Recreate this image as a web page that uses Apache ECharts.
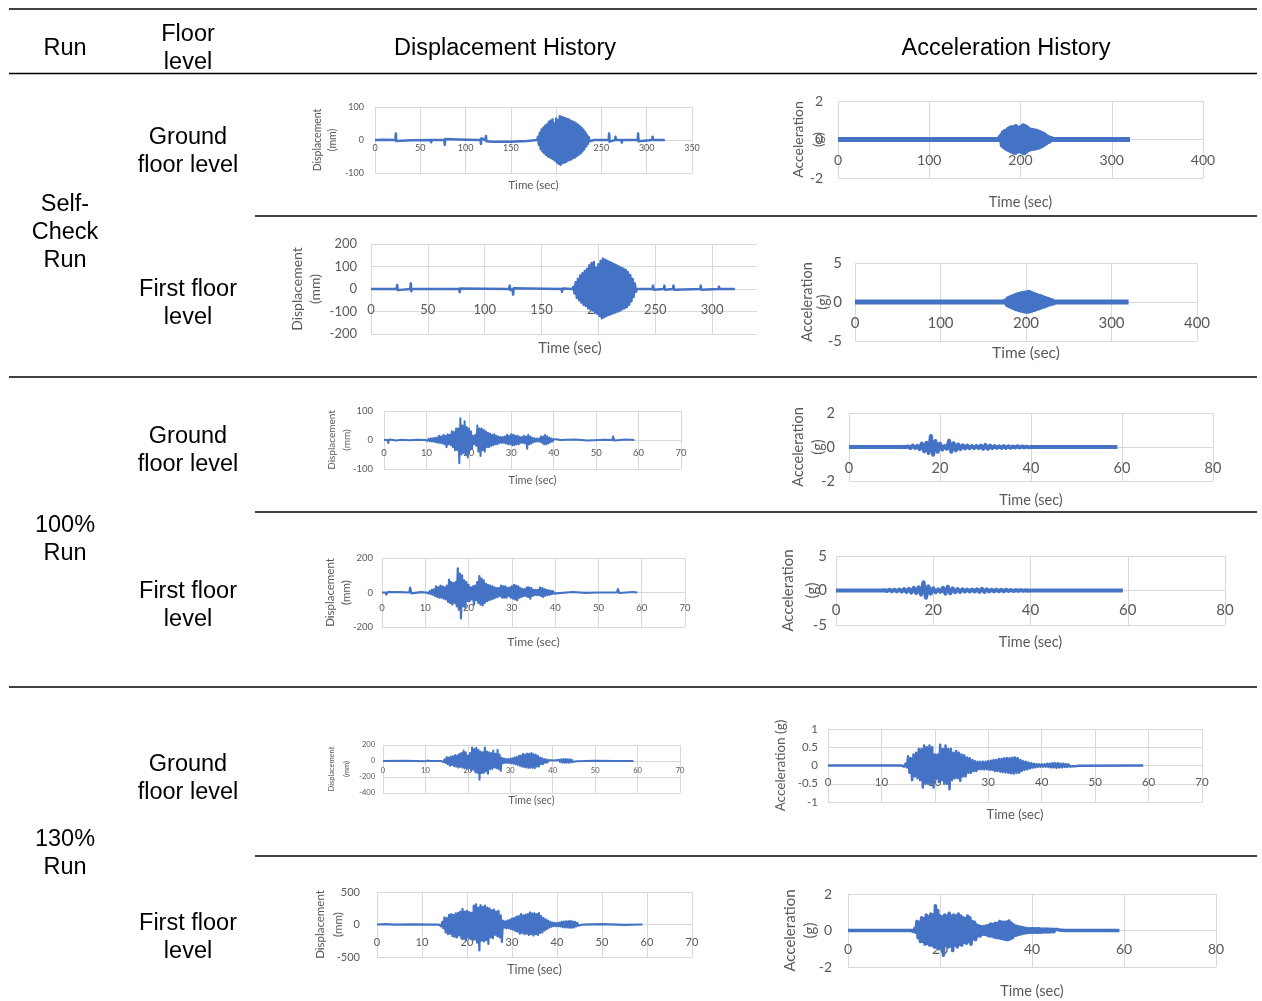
<!DOCTYPE html>
<html>
<head>
<meta charset="utf-8">
<script src="https://cdn.jsdelivr.net/npm/echarts@6/dist/echarts.min.js"></script>
<style>
  html, body { margin: 0; padding: 0; background: #fff; }
  #main { width: 1262px; height: 1001px; }
</style>
</head>
<body>
<div id="main"></div>
<script>
// regular-step stretch of a record: values, one per step
function burst(t0, dt, vals) {
  return vals.map((v, i) => [t0 + i * dt, v]);
}

// table text
const headers = ['Run', 'Floor\nlevel', 'Displacement History', 'Acceleration History'];
const runLabels = ['Self-\nCheck\nRun', '100%\nRun', '130%\nRun'];
const floorLabels = ['Ground\nfloor level', 'First floor\nlevel'];

// ---- Self-check run (time s, mm / g) ----
const selfGroundDisp = [[0,0],[10,1],[22.5,0],[23,20],[23.5,-3],[24,0],[40,-1],[61.5,0],[62,-7],[62.5,0],[76.5,0],[77,-15],[77.5,3],[78,0],[100,1],[116.5,0],[117,-12],[117.5,5],[118,0],[122,0],[122.5,12],[123,-4],[123.5,0],[130,-5],[130.5,0],[150,-5],[150.5,0],[168,-3],[168.5,0],[179,0]]
  .concat(burst(180, 1, [10,-15,22,-28,32,-35,38,-40,43,-45,47,-50,55,-52,58,-55,62,-58,50,-62,65,-68,60,-72,72,-75,70,-70,68,-68,66,-66,64,-62,62,-60,58,-58,56,-54,54,-52,50,-48,46,-44,42,-40,37,-34,31,-28,24,-20,16,-12,8,-4]))
  .concat([[238,0],[242,0],[242.5,-6],[243,0],[258,0],[258.5,20],[259,-5],[259.5,0],[265,0],[265.5,10],[266,0],[272,0],[272.5,-8],[273,0],[290,0],[290.5,20],[291,-4],[291.5,0],[306,0],[306.5,10],[307,0],[320,0]]);

const selfGroundAcc = [[0,0],[176,0]]
  .concat(burst(177, 1, [0.05,-0.1,0.2,-0.3,0.35,-0.38,0.42,-0.45,0.45,-0.5,0.55,-0.55,0.6,-0.6,0.62,-0.65,0.6,-0.68,0.68,-0.62,0.6,-0.6,0.5,-0.55,0.65,-0.65,0.72,-0.7,0.68,-0.62,0.62,-0.55,0.55,-0.5,0.5,-0.48,0.48,-0.46,0.45,-0.45,0.44,-0.42,0.4,-0.4,0.38,-0.35,0.32,-0.3,0.28,-0.25,0.22,-0.18,0.15,-0.12,0.1,-0.08,0.06,-0.04,0.02]))
  .concat([[236,0],[250,0],[250.5,0.06],[251,0],[283,0],[283.5,0.05],[284,0],[320,0]]);

const selfFirstDisp = [[0,0],[22.5,0],[23,18],[23.5,-5],[24,0],[34.5,0],[35,25],[35.5,-10],[36,0],[77.5,0],[78,-14],[78.5,2],[79,0],[121.5,0],[122,15],[122.5,-5],[124.5,0],[125,-25],[125.5,3],[126,0],[167.5,0],[168,-12],[168.5,2],[169,0],[177,0]]
  .concat(burst(178, 1, [10,-20,30,-40,45,-50,60,-60,70,-70,80,-75,90,-85,105,-90,115,-95,120,-105,95,-110,110,-120,125,-130,135,-125,130,-120,125,-115,120,-112,115,-108,110,-104,105,-100,100,-96,95,-90,90,-85,85,-80,75,-70,62,-55,45,-35,25,-12]))
  .concat([[234,0],[247.5,0],[248,15],[248.5,-3],[249,0],[257.5,0],[258,15],[258.5,-3],[259,0],[265.5,0],[266,15],[266.5,-3],[267,0],[289.5,0],[290,15],[290.5,-3],[291,0],[305.5,0],[306,10],[306.5,0],[317.5,0],[318,-6],[318.5,0],[320,0]]);

const selfFirstAcc = [[0,0],[174,0]]
  .concat(burst(175, 1, [0.05,-0.1,0.2,-0.3,0.4,-0.45,0.5,-0.55,0.6,-0.65,0.7,-0.75,0.8,-0.85,0.85,-0.9,0.95,-1.0,1.0,-1.05,1.1,-1.1,1.1,-1.15,1.15,-1.2,1.2,-1.2,1.25,-1.15,1.2,-1.1,1.1,-1.0,1.0,-0.95,0.9,-0.85,0.85,-0.8,0.75,-0.7,0.7,-0.65,0.6,-0.55,0.5,-0.5,0.45,-0.4,0.35,-0.3,0.28,-0.25,0.2,-0.18,0.15,-0.12,0.08,-0.05]))
  .concat([[235,0],[320,0]]);

// ---- 100% run ----
const run100GroundDisp = [[0,0],[0.8,0],[1,-10],[1.2,2],[1.5,0],[3,-2],[4,1],[6,-1],[8,1],[9.75,0]]
  .concat(burst(10, 0.25, [3,-3,4,-4,6,-5,6,-6,8,-8,9,-10,15,-10,12,-12,18,-15,15,-25,20,-15,18,-18,30,-25,28,-35,40,-35,40,-80,75,-50,50,-45,65,-50,45,-60,40,-35,30,-30,15,-15,18,-20,50,-40,40,-55,40,-35,35,-40,30,-25,25,-25,22,-20,18,-18,20,-15,15,-15,12,-10,10,-10,10,-10,12,-12,18,-15,15,-15,20,-18,18,-18,15,-15,15,-15,10,-10,10,-10,15,-12,12,-30,18,-15,12,-12,8,-8,6,-6,5,-5,5,-6,12,-10,12,-15,18,-15,12,-12,8,-8,5,-5,3,-3,3,-3,2,-1]))
  .concat([[41.5,0],[45,2],[48,-2],[52,1],[53.8,0],[54,12],[54.3,-2],[54.6,0],[57,2],[59,0]]);

const run100GroundAcc = [[0,0],[12.5,0]]
  .concat(burst(13, 0.5, [0.03,-0.06,0.08,-0.05,0.06,-0.12,0.2,-0.25,0.25,-0.35,0.65,-0.45,0.35,-0.28,0.2,-0.15,0.06,-0.1,0.37,-0.28,0.22,-0.2,0.15,-0.12,0.1,-0.08,0.08,-0.07,0.06,-0.06,0.05,-0.06,0.08,-0.1,0.12,-0.1,0.08,-0.06,0.05,-0.05,0.04,-0.05,0.06,-0.05,0.04,-0.04,0.03,-0.03,0.04,-0.03,0.03,-0.02,0.02,-0.02,0.01]))
  .concat([[40.5,0],[59,0]]);

const run100FirstDisp = [[0,0],[0.8,0],[1,-12],[1.3,3],[1.6,0],[4,2],[6.3,0],[6.5,28],[6.8,-5],[7.1,0],[9,2],[10.25,0]]
  .concat(burst(10.5, 0.25, [5,-5,8,-10,15,-12,18,-20,35,-25,30,-30,40,-30,35,-35,30,-40,40,-55,75,-60,60,-70,55,-60,60,-80,140,-100,110,-150,100,-80,70,-90,60,-50,45,-50,30,-40,35,-70,40,-45,60,-60,95,-70,80,-75,70,-60,50,-50,45,-45,40,-40,35,-35,30,-30,25,-25,25,-20,40,-30,35,-30,35,-30,25,-20,30,-30,35,-35,45,-40,40,-45,35,-30,25,-25,20,-20,20,-20,30,-25,30,-35,25,-20,15,-15,15,-15,15,-15,28,-20,25,-25,20,-18,15,-15,12,-12,10,-10,8,-6,5,-5]))
  .concat([[40.5,0],[44,3],[47,-2],[49.8,0],[50,10],[50.3,0],[54.3,0],[54.5,20],[54.8,-3],[55.1,0],[58,3],[59,0]]);

const run100FirstAcc = [[0,0],[9.5,0]]
  .concat(burst(10, 0.5, [0.05,-0.08,0.1,-0.1,0.12,-0.12,0.15,-0.15,0.2,-0.2,0.25,-0.3,0.4,-0.35,0.45,-0.6,1.2,-1.05,0.6,-0.45,0.3,-0.25,0.15,-0.2,0.4,-0.45,0.55,-0.4,0.3,-0.25,0.2,-0.2,0.18,-0.15,0.15,-0.15,0.15,-0.15,0.18,-0.2,0.25,-0.2,0.18,-0.15,0.12,-0.12,0.12,-0.1,0.1,-0.1,0.1,-0.08,0.08,-0.08,0.06,-0.06,0.06,-0.05,0.04,-0.04]))
  .concat([[40,0],[59,0]]);

// ---- 130% run ----
const run130GroundDisp = [[0,0],[5,2],[10,-2],[10.5,5],[11,0],[13.75,0]]
  .concat(burst(14, 0.25, [15,-15,20,-25,50,-40,45,-60,55,-50,60,-65,75,-70,70,-80,90,-75,100,-85,130,-90,110,-100,70,-90,100,-120,170,-110,150,-140,165,-150,140,-235,120,-150,110,-150,170,-130,120,-160,110,-100,100,-100,130,-80,90,-90,140,-100,80,-125,40,-30,30,-25,25,-25,25,-25,30,-30,35,-35,45,-40,50,-50,65,-60,70,-70,90,-75,80,-80,95,-85,90,-85,100,-85,85,-90,80,-70,65,-70,45,-40,35,-40,25,-20,20,-20,12,-10,10,-10,6,-6,8,-6,10,-10,15,-12,22,-20,22,-20,25,-22,22,-22,20,-18,15,-12,8,-6,5,-3]))
  .concat([[46,0],[50,2],[54.8,0],[55,-6],[55.3,0],[59,0]]);

const run130GroundAcc = [[0,0],[13.75,0]]
  .concat(burst(14, 0.25, [0.03,-0.03,0.05,-0.05,0.25,-0.2,0.2,-0.4,0.3,-0.3,0.35,-0.35,0.45,-0.4,0.45,-0.6,0.55,-0.5,0.5,-0.5,0.55,-0.5,0.5,-0.6,0.3,-0.35,0.3,-0.45,0.57,-0.4,0.45,-0.5,0.55,-0.5,0.45,-0.65,0.45,-0.4,0.35,-0.35,0.4,-0.35,0.35,-0.42,0.3,-0.3,0.28,-0.3,0.22,-0.2,0.2,-0.2,0.15,-0.15,0.12,-0.15,0.1,-0.1,0.1,-0.1,0.1,-0.1,0.1,-0.1,0.12,-0.12,0.13,-0.12,0.15,-0.15,0.15,-0.15,0.18,-0.17,0.18,-0.18,0.2,-0.19,0.2,-0.2,0.2,-0.21,0.21,-0.22,0.22,-0.2,0.2,-0.2,0.15,-0.15,0.12,-0.12,0.1,-0.1,0.08,-0.08,0.06,-0.06,0.05,-0.05,0.04,-0.04,0.03,-0.03,0.03,-0.03,0.03,-0.03,0.05,-0.04,0.05,-0.05,0.06,-0.05,0.06,-0.06,0.06,-0.05,0.05,-0.05,0.05,-0.04,0.04,-0.04,0.03,-0.03,0.02,-0.02,0.02,-0.02,0.01,-0.01]))
  .concat([[47,0],[59,0]]);

const run130FirstDisp = [[0,0],[2,5],[4,-3],[8,3],[12,-2],[13.75,0]]
  .concat(burst(14, 0.25, [20,-30,40,-60,110,-120,100,-150,150,-140,160,-180,150,-190,170,-200,180,-170,200,-210,240,-220,200,-250,210,-200,190,-220,180,-250,290,-230,310,-280,260,-400,300,-250,270,-260,290,-240,260,-300,250,-200,220,-210,230,-160,200,-180,210,-200,140,-270,60,-50,50,-60,60,-55,70,-70,90,-80,100,-100,120,-110,130,-140,160,-130,140,-150,150,-140,160,-160,185,-150,170,-170,170,-150,160,-160,175,-130,130,-120,100,-90,80,-70,60,-50,40,-35,30,-25,25,-25,20,-25,30,-30,40,-40,45,-45,50,-45,50,-50,55,-50,45,-45,40,-30,25,-20,10,-8,5,-3]))
  .concat([[46,0],[50,5],[55,-5],[58.5,0],[58.8,15],[59,0]]);

const run130FirstAcc = [[0,0],[13.75,0]]
  .concat(burst(14, 0.25, [0.05,-0.05,0.1,-0.1,0.5,-0.4,0.45,-0.6,0.7,-0.6,0.65,-0.75,0.85,-0.7,0.75,-0.8,0.9,-0.8,0.85,-0.9,1.35,-0.9,1.1,-1.0,0.8,-0.9,0.75,-1.35,0.85,-0.8,0.8,-0.9,0.95,-0.85,0.8,-1.1,0.85,-0.8,0.8,-0.9,0.9,-0.75,0.8,-0.8,0.7,-0.65,0.65,-0.7,0.8,-0.6,0.7,-0.75,0.5,-0.45,0.45,-0.5,0.3,-0.3,0.25,-0.3,0.2,-0.2,0.2,-0.2,0.25,-0.25,0.28,-0.3,0.35,-0.3,0.33,-0.35,0.4,-0.38,0.38,-0.4,0.5,-0.42,0.45,-0.45,0.45,-0.48,0.47,-0.5,0.52,-0.45,0.4,-0.4,0.3,-0.28,0.25,-0.25,0.2,-0.2,0.18,-0.18,0.15,-0.14,0.12,-0.12,0.1,-0.1,0.1,-0.1,0.1,-0.1,0.1,-0.1,0.1,-0.1,0.1,-0.1,0.08,-0.08,0.08,-0.08,0.08,-0.08,0.08,-0.08,0.07,-0.07,0.06,-0.06,0.05,-0.05,0.05,-0.04,0.03,-0.03,0.02,-0.02]))
  .concat([[47,0],[59,0]]);

const signals = [selfGroundDisp, selfGroundAcc, selfFirstDisp, selfFirstAcc,
                 run100GroundDisp, run100GroundAcc, run100FirstDisp, run100FirstAcc,
                 run130GroundDisp, run130GroundAcc, run130FirstDisp, run130FirstAcc];

// ---- layout of the twelve small charts (page px) ----
const DISP = 'Displacement\n(mm)', ACC = 'Acceleration\n(g)';
const layout = [
  {L:375,T:107,R:692,B:173, xMax:350,xStep:50, yMin:-100,yMax:100,yStep:100, fs:9,  tfs:11.5, ty:185, nx:325,   nfs:10.5, nlh:15, name:DISP, lw:2.5, xm:4,  ym:11},
  {L:838,T:101,R:1203,B:178,xMax:400,xStep:100,yMin:-2,yMax:2,yStep:2,        fs:14, tfs:14.5, ty:202, nx:808,   nfs:14,   nlh:20, name:ACC,  lw:5,   xm:14, ym:15},
  {L:371,T:244,R:769,B:334, xMax:350,xStep:50, yMin:-200,yMax:200,yStep:100, fs:13, tfs:14.5, ty:348, nx:306,   nfs:14,   nlh:18, name:DISP, lw:2.5, xm:14, ym:14},
  {L:855,T:263,R:1197,B:341,xMax:400,xStep:100,yMin:-5,yMax:5,yStep:5,        fs:15, tfs:15.5, ty:353, nx:815,   nfs:14.5, nlh:16, name:ACC,  lw:5,   xm:14, ym:13},
  {L:384,T:411,R:681,B:469, xMax:70,xStep:10,  yMin:-100,yMax:100,yStep:100, fs:9.5,tfs:11,   ty:480, nx:339.5, nfs:10,   nlh:15, name:DISP, lw:2,   xm:8,  ym:11},
  {L:849,T:413,R:1213,B:481,xMax:80,xStep:20,  yMin:-2,yMax:2,yStep:2,        fs:14.5,tfs:14.5,ty:500, nx:808,   nfs:14.5, nlh:20, name:ACC,  lw:4,   xm:14, ym:14},
  {L:382,T:558,R:685,B:627, xMax:70,xStep:10,  yMin:-200,yMax:200,yStep:200, fs:9.5,tfs:12,   ty:642, nx:338,   nfs:11.5, nlh:16, name:DISP, lw:2.2, xm:10, ym:9},
  {L:836,T:556,R:1225,B:625,xMax:80,xStep:20,  yMin:-5,yMax:5,yStep:5,        fs:15, tfs:14.5, ty:642, nx:800,   nfs:15,   nlh:24, name:ACC,  lw:4,   xm:12, ym:9},
  {L:383,T:745,R:680,B:793, xMax:70,xStep:10,  yMin:-400,yMax:200,yStep:200, fs:7.5,tfs:10.5, ty:801, nx:339.5, nfs:7.5,  nlh:15, name:DISP, lw:2,   xm:6,  ym:8},
  {L:828,T:729,R:1202,B:802,xMax:70,xStep:10,  yMin:-1,yMax:1,yStep:0.5,      fs:11.5,tfs:13,  ty:815, nx:781,   nfs:13.5, nlh:16, name:'Acceleration (g)', lw:2.5, xm:11, ym:10},
  {L:377,T:892,R:692,B:957, xMax:70,xStep:10,  yMin:-500,yMax:500,yStep:500, fs:11, tfs:12.5, ty:970, nx:329,   nfs:11.5, nlh:18, name:DISP, lw:2.2, xm:12, ym:17},
  {L:848,T:894,R:1216,B:967,xMax:80,xStep:20,  yMin:-2,yMax:2,yStep:2,        fs:14, tfs:14.5, ty:991, nx:800,   nfs:15,   nlh:20, name:ACC,  lw:3.5, xm:12, ym:16}
];

const blue = '#4472C4', grid = '#d9d9d9', grey = '#595959';
const chartFont = 'Lato', tableFont = '"Liberation Sans", Arial, sans-serif';

function txt(x, y, text, size, family, color, rot, lh) {
  return {
    type: 'text', x: x, y: y, rotation: rot || 0, z: 50,
    style: {
      text: text, fontSize: size, fontFamily: family, fill: color,
      align: 'center', verticalAlign: 'middle', textAlign: 'center', textVerticalAlign: 'middle',
      lineHeight: lh || size * 1.2
    }
  };
}

const grids = [], xAxes = [], yAxes = [], series = [], graphics = [];
layout.forEach((c, i) => {
  // the time axis sits on the zero line, as in the spreadsheet charts
  const zeroY = c.T + (c.yMax / (c.yMax - c.yMin)) * (c.B - c.T);
  grids.push({ left: c.L, top: c.T, width: c.R - c.L, height: c.B - c.T, outerBoundsMode: 'none', containLabel: false });
  xAxes.push({
    gridIndex: i, type: 'value', min: 0, max: c.xMax, interval: c.xStep,
    position: 'bottom', offset: -(c.B - zeroY),
    axisLine: { show: true, onZero: false, lineStyle: { color: grid, width: 1 } },
    axisTick: { show: false },
    splitLine: { show: true, lineStyle: { color: grid, width: 1 } },
    axisLabel: { fontSize: c.fs, color: grey, fontFamily: chartFont, margin: c.xm,
                 showMinLabel: true, showMaxLabel: true, hideOverlap: false }
  });
  yAxes.push({
    gridIndex: i, type: 'value', min: c.yMin, max: c.yMax, interval: c.yStep,
    axisLine: { show: false, onZero: false }, axisTick: { show: false },
    splitLine: { show: true, lineStyle: { color: grid, width: 1 } },
    axisLabel: { fontSize: c.fs, color: grey, fontFamily: chartFont, margin: c.ym,
                 showMinLabel: true, showMaxLabel: true }
  });
  series.push({
    type: 'line', xAxisIndex: i, yAxisIndex: i, data: signals[i],
    symbol: 'none', showSymbol: false, silent: true, z: 5,
    lineStyle: { color: blue, width: c.lw, join: 'round' }
  });
  graphics.push(txt((c.L + c.R) / 2, c.ty, 'Time (sec)', c.tfs, chartFont, grey));
  graphics.push(txt(c.nx, (c.T + c.B) / 2, c.name, c.nfs, chartFont, grey, Math.PI / 2, c.nlh));
});

// the second self-check displacement picture is cut off on its right side
graphics.push({ type: 'rect', z: 40, shape: { x: 757, y: 236, width: 33, height: 104 }, style: { fill: '#fff' } });

// table rules
const rules = [[9, 1257, 9], [9, 1257, 73.5], [255, 1257, 216], [9, 1257, 377],
               [255, 1257, 512], [9, 1257, 687], [255, 1257, 856]];
rules.forEach(r => graphics.push({ type: 'line', z: 60, shape: { x1: r[0], y1: r[2], x2: r[1], y2: r[2] },
                                   style: { stroke: '#000', lineWidth: 1.6 } }));

// table text
const TS = 23.5, LH = 28;
const headerX = [65, 188, 505, 1006];
headers.forEach((h, i) => graphics.push(txt(headerX[i], 48.5, h, TS, tableFont, '#000', 0, LH)));
const runY = [233, 539.5, 853.5];
runLabels.forEach((r, i) => graphics.push(txt(65, runY[i], r, TS, tableFont, '#000', 0, LH)));
const floorY = [151.5, 303.5, 451, 606, 778.5, 938];
floorY.forEach((y, i) => graphics.push(txt(188, y, floorLabels[i % 2], TS, tableFont, '#000', 0, LH)));

const chart = echarts.init(document.getElementById('main'), null, { renderer: 'canvas' });
chart.setOption({
  animation: false,
  backgroundColor: '#fff',
  textStyle: { fontFamily: chartFont },
  grid: grids,
  xAxis: xAxes,
  yAxis: yAxes,
  series: series,
  graphic: graphics
});
</script>
</body>
</html>
